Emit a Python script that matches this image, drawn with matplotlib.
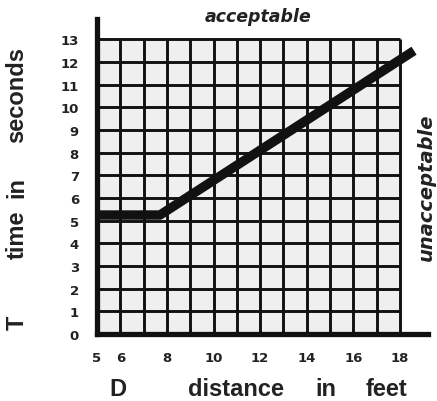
import matplotlib
matplotlib.use("Agg")
import matplotlib.pyplot as plt

# data
line_x = [5, 7.7, 18.6]
line_y = [5.25, 5.25, 12.5]
xticks = [5, 6, 8, 10, 12, 14, 16, 18]
yticks = list(range(0, 14))
grid_x = list(range(5, 19))
grid_y = list(range(0, 14))

W, H = 437, 402
fig = plt.figure(figsize=(W / 100, H / 100), dpi=100)
ax = fig.add_axes([97 / W, 1 - 335 / H, (428 - 97) / W, (335 - 20) / H])
ax.set_xlim(5, 19.2)
ax.set_ylim(0, 13.9)

ax.fill_between([5, 18], 0, 13, color="#efefef", zorder=0, lw=0)
ax.vlines(grid_x, 0, 13, color="#111111", lw=2.1, zorder=1)
ax.hlines(grid_y, 5, 18, color="#111111", lw=2.1, zorder=1)

ax.plot(line_x, line_y, color="#111111", lw=6.8, solid_capstyle="butt", zorder=3)

for s in ["top", "right"]:
    ax.spines[s].set_visible(False)
for s in ["left", "bottom"]:
    ax.spines[s].set_linewidth(3.8)
    ax.spines[s].set_color("#111111")
    ax.spines[s].set_zorder(4)

ax.set_xticks(xticks)
ax.set_yticks(yticks)
ax.tick_params(length=0, labelsize=9.5)
for lab in ax.get_xticklabels() + ax.get_yticklabels():
    lab.set_fontweight("bold")
    lab.set_color("#222222")
ax.tick_params(axis="x", pad=12)
ax.tick_params(axis="y", pad=13)

ax.text(0.486, 1.01, "acceptable", transform=ax.transAxes, ha="center", va="center",
        fontsize=12.5, fontweight="bold", fontstyle="italic", color="#222222")
ax.text(0.995, 0.47, "unacceptable", transform=ax.transAxes, ha="center", va="center",
        rotation=90, fontsize=14, fontweight="bold", fontstyle="italic", color="#222222")

def ft(px, py, s, **kw):
    fig.text(px / W, 1 - py / H, s, ha="center", va="center", fontsize=17,
             color="#222222", family="Liberation Sans", fontweight="bold", **kw)

ft(17, 323, "T", rotation=90)
ft(17, 235, "time", rotation=90)
ft(17, 188, "in", rotation=90)
ft(17, 95, "seconds", rotation=90)
ft(118, 390, "D")
ft(236, 390, "distance")
ft(326, 390, "in")
ft(387, 390, "feet")

fig.savefig("out.png", dpi=100, facecolor="white")
